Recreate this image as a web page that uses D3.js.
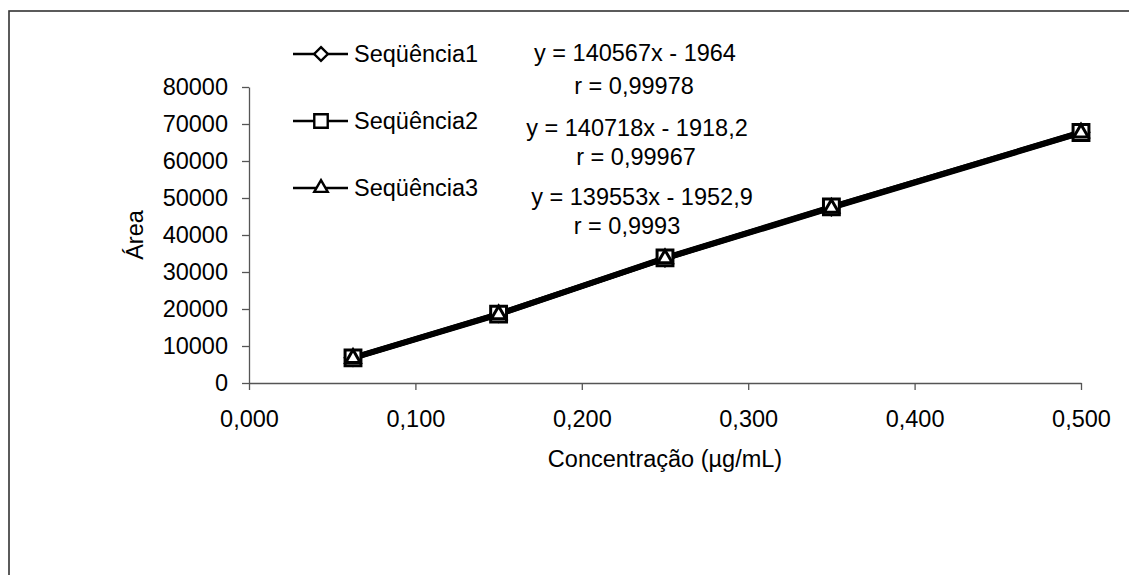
<!DOCTYPE html>
<html>
<head>
<meta charset="utf-8">
<script src="https://cdn.jsdelivr.net/npm/d3@7"></script>
<style>
  html, body { margin: 0; padding: 0; background: #fff; }
  svg { display: block; }
  text { font-family: "Liberation Sans", Arial, sans-serif; fill: #000; }
</style>
</head>
<body>
<svg id="chart" width="1129" height="575"></svg>
<script>
// ---- data ----
const concentrations = [0.0625, 0.15, 0.25, 0.35, 0.5];
const seriesNames = ["Seqüência1", "Seqüência2", "Seqüência3"];
const seq1 = [6850, 18700, 33700, 47500, 67800];
const seq2 = [6800, 18600, 33800, 47600, 67700];
const seq3 = [6700, 18500, 33650, 47300, 67600];
const xTicks = [0, 0.1, 0.2, 0.3, 0.4, 0.5];
const yTicks = [0, 10000, 20000, 30000, 40000, 50000, 60000, 70000, 80000];
const equations = ["y = 140567x - 1964", "y = 140718x - 1918,2", "y = 139553x - 1952,9"];
const rValues = ["r = 0,99978", "r = 0,99967", "r = 0,9993"];
const xTitle = "Concentração (µg/mL)";
const yTitle = "Área";
const markerTypes = ["diamond", "square", "triangle"];

(function () {
// ---- layout ----
const svg = d3.select("#chart");
const fontSize = 23.5;
const pLeft = 249, pRight = 1081, pTop = 87, pBottom = 383;

svg.append("rect")
  .attr("x", 9).attr("y", 11)
  .attr("width", 1140).attr("height", 600)
  .attr("fill", "none").attr("stroke", "#333").attr("stroke-width", 1.6);

const x = d3.scaleLinear().domain([0, 0.5]).range([pLeft, pRight]);
const y = d3.scaleLinear().domain([0, 80000]).range([pBottom, pTop]);

const fmtX = v => d3.format(".3f")(v).replace(".", ",");

const xAxis = svg.append("g")
  .attr("transform", `translate(0,${pBottom})`)
  .call(d3.axisBottom(x).tickValues(xTicks).tickFormat(fmtX).tickSize(7).tickPadding(20).tickSizeOuter(0));
const yAxis = svg.append("g")
  .attr("transform", `translate(${pLeft},0)`)
  .call(d3.axisLeft(y).tickValues(yTicks).tickFormat(d3.format("d")).tickSize(7).tickPadding(14).tickSizeOuter(0));

[xAxis, yAxis].forEach(g => {
  g.select(".domain").attr("stroke", "#555").attr("stroke-width", 1.3);
  g.selectAll(".tick line").attr("stroke", "#555").attr("stroke-width", 1.3);
  g.selectAll(".tick text").attr("font-size", fontSize)
    .attr("font-family", "'Liberation Sans', Arial, sans-serif").attr("fill", "#000");
});

svg.append("text")
  .attr("x", (pLeft + pRight) / 2).attr("y", 467)
  .attr("text-anchor", "middle").attr("font-size", fontSize)
  .text(xTitle);
svg.append("text")
  .attr("transform", `translate(143,${(pTop + pBottom) / 2}) rotate(-90)`)
  .attr("text-anchor", "middle").attr("font-size", fontSize)
  .text(yTitle);

// ---- series ----
const allSeries = [seq1, seq2, seq3].map((vals, i) => ({
  name: seriesNames[i],
  marker: markerTypes[i],
  points: concentrations.map((c, j) => ({ c, v: vals[j] }))
}));

const line = d3.line().x(d => x(d.c)).y(d => y(d.v));
svg.append("g").selectAll("path").data(allSeries).join("path")
  .attr("d", d => line(d.points))
  .attr("fill", "none").attr("stroke", "#000").attr("stroke-width", 5.5)
  .attr("stroke-linejoin", "round");

const symType = { diamond: d3.symbolDiamond2, square: d3.symbolSquare2, triangle: d3.symbolTriangle2 };
const symSize = { diamond: 150, square: 320, triangle: 150 };
const legSize = { diamond: 120, square: 230, triangle: 130 };
allSeries.forEach(s => {
  svg.append("g").selectAll("path").data(s.points).join("path")
    .attr("transform", d => `translate(${x(d.c)},${y(d.v)})`)
    .attr("d", d3.symbol().type(symType[s.marker]).size(symSize[s.marker])())
    .attr("fill", "#fff").attr("stroke", "#000").attr("stroke-width", 3);
});

// ---- legend ----
const legendRowY = [54, 121, 188];
allSeries.forEach((s, i) => {
  const g = svg.append("g").attr("transform", `translate(0,${legendRowY[i]})`);
  g.append("line").attr("x1", 293).attr("x2", 348).attr("y1", 0).attr("y2", 0)
    .attr("stroke", "#000").attr("stroke-width", 2.4);
  g.append("path").attr("transform", "translate(321,0)")
    .attr("d", d3.symbol().type(symType[s.marker]).size(legSize[s.marker])())
    .attr("fill", "#fff").attr("stroke", "#000").attr("stroke-width", 2.4);
  g.append("text").attr("x", 354).attr("dy", "0.35em").attr("font-size", fontSize).text(s.name);
});

// ---- regression annotations ----
const eqPos = [[635, 53], [637, 128], [642, 197]];
const rPos = [[634, 86], [636, 157], [627, 226]];
equations.forEach((t, i) => {
  svg.append("text").attr("x", eqPos[i][0]).attr("y", eqPos[i][1]).attr("dy", "0.35em")
    .attr("text-anchor", "middle").attr("font-size", fontSize).text(t);
  svg.append("text").attr("x", rPos[i][0]).attr("y", rPos[i][1]).attr("dy", "0.35em")
    .attr("text-anchor", "middle").attr("font-size", fontSize).text(rValues[i]);
});
})();
</script>
</body>
</html>
